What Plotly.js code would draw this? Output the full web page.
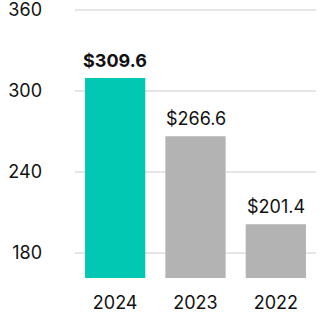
<!DOCTYPE html>
<html><head><meta charset="utf-8">
<script src="https://cdn.plot.ly/plotly-3.0.1.min.js"></script>
<style>html,body{margin:0;padding:0;background:#fff;}#chart{width:326px;height:326px;}</style>
</head><body><div id="chart"></div>
<script>
const years = ["2024", "2023", "2022"];
const revenue = [309.6, 266.6, 201.4];
const barColors = ["#00C8B3", "#B3B3B3", "#B3B3B3"];
const labelWeights = ["bold", "normal", "normal"];
const yTicks = [180, 240, 300, 360];

const trace = {
  type: "bar",
  x: years,
  y: revenue,
  marker: {color: barColors},
  hoverinfo: "none"
};

const annotations = years.map((yr, i) => ({
  x: i, y: revenue[i], xref: "x", yref: "y",
  text: "$" + revenue[i].toFixed(1),
  showarrow: false, yanchor: "bottom", yshift: 5,
  font: {family: "Inter, 'DejaVu Sans', sans-serif", size: 18, color: "#111", weight: labelWeights[i]}
}));

const layout = {
  width: 326, height: 326,
  margin: {l: 75, r: 10, t: 9, b: 48},
  paper_bgcolor: "#fff", plot_bgcolor: "#fff",
  bargap: 0.25,
  showlegend: false,
  font: {family: "Inter, 'DejaVu Sans', sans-serif", size: 18, color: "#111"},
  xaxis: {
    type: "category", range: [-0.5, 2.5], autorange: false,
    showgrid: false, zeroline: false, showline: false,
    ticks: "", ticklabelstandoff: 12, tickfont: {size: 18}
  },
  yaxis: {
    range: [161.5, 360.8], autorange: false, tickvals: yTicks, ticktext: yTicks.map(String),
    showgrid: true, gridcolor: "#e6e6e6", gridwidth: 1.2,
    zeroline: false, showline: false, ticks: "", ticklabelstandoff: 32,
    ticklabeloverflow: "allow", tickfont: {size: 18}
  },
  annotations: annotations
};

Plotly.newPlot("chart", [trace], layout, {staticPlot: true, displayModeBar: false});
</script>
</body></html>
